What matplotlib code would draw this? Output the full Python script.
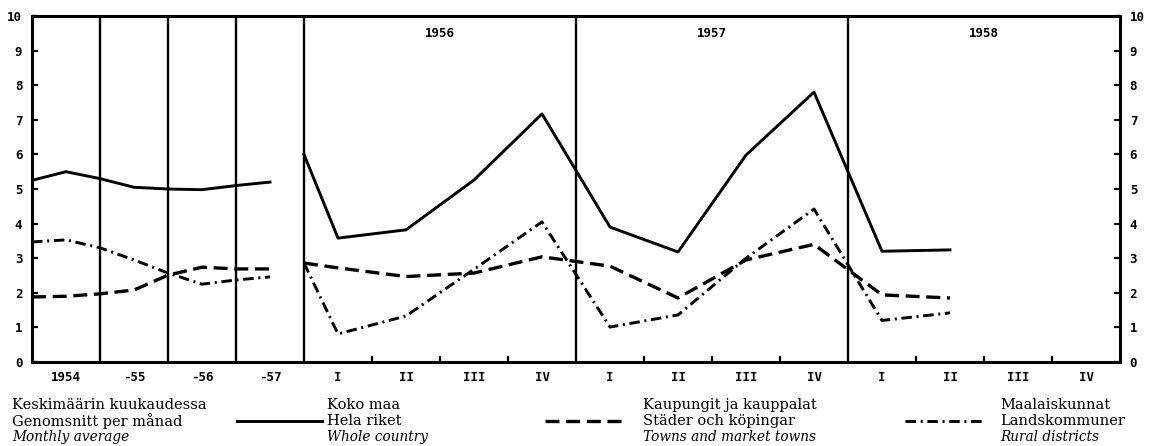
import matplotlib
matplotlib.use('Agg')
import matplotlib.pyplot as plt
from matplotlib.lines import Line2D
import numpy as np

# Annual averages 1954-57 (points at half-year steps inside each year panel)
annual_labels = ['1954', '-55', '-56', '-57']
whole_annual = [5.25, 5.5, 5.3, 5.05, 5.0, 4.98, 5.1, 5.2]
towns_annual = [1.88, 1.9, 1.97, 2.08, 2.51, 2.74, 2.69, 2.69]
rural_annual = [3.47, 3.53, 3.3, 2.95, 2.57, 2.25, 2.37, 2.46]

# Quarterly 1956-58 (first value = line entering at start of 1956 panel)
years = ['1956', '1957', '1958']
quarters = ['I', 'II', 'III', 'IV']
whole_q = [6.0, 3.58, 3.82, 5.26, 7.17, 3.9, 3.18, 5.98, 7.8, 3.2, 3.24]
towns_q = [2.86, 2.72, 2.47, 2.57, 3.04, 2.77, 1.85, 2.95, 3.4, 1.94, 1.85]
rural_q = [2.86, 0.81, 1.33, 2.68, 4.05, 1.01, 1.36, 3.0, 4.42, 1.2, 1.42]

W, H = 1154, 446
fig = plt.figure(figsize=(W / 100, H / 100), dpi=100)
ax = fig.add_axes([32 / W, 1 - 362 / H, (1120 - 32) / W, (362 - 16) / H])

n_ann = len(annual_labels)
xa = np.arange(len(whole_annual)) * 0.5
xq = np.concatenate([[n_ann], n_ann + 0.5 + np.arange(len(whole_q) - 1)])

dash = (4.2, 2.0)
dashdot = (3.6, 1.6, 0.7, 1.6)
for xs, w, t, r in [(xa, whole_annual, towns_annual, rural_annual),
                    (xq, whole_q, towns_q, rural_q)]:
    ax.plot(xs, w, color='black', lw=2.1)
    ax.plot(xs, t, color='black', lw=2.4, dashes=dash)
    ax.plot(xs, r, color='black', lw=2.1, dashes=dashdot)

x_end = n_ann + 4 * len(years)
ax.set_xlim(0, x_end)
ax.set_ylim(0, 10)

# Panel separators
for xv in list(range(1, n_ann + 1)) + [n_ann + 4 * (i + 1) for i in range(len(years) - 1)]:
    ax.axvline(xv, color='black', lw=1.7)

for s in ax.spines.values():
    s.set_linewidth(2.2)

tick_font = dict(family='DejaVu Sans Mono', size=9, weight='bold')

# Y axis both sides, inward ticks
ax.set_yticks(range(0, 11))
ax.set_yticklabels([str(v) for v in range(0, 11)], **tick_font)
ax.tick_params(axis='y', direction='in', length=4, width=1.6,
               left=True, right=True, labelleft=True, labelright=True, pad=7)

# X: quarter boundary ticks inward, labels at centres
minor = [n_ann + 4 * i + k for i in range(len(years)) for k in (1, 2, 3)]
ax.set_xticks(minor)
ax.set_xticklabels([])
ax.tick_params(axis='x', direction='in', length=4, width=1.6)

lab_x = list(np.arange(n_ann) + 0.5) + [n_ann + 4 * i + k + 0.5
                                      for i in range(len(years)) for k in range(4)]
lab_t = annual_labels + quarters * len(years)
for xv, t in zip(lab_x, lab_t):
    ax.text(xv, -0.25, t, ha='center', va='top', **tick_font)

for i, y in enumerate(years):
    ax.text(n_ann + 4 * i + 2, 9.5, y, ha='center', va='center', **tick_font)

# Legend drawn in figure pixel coordinates
def px(x, y):
    return x / W, 1 - y / H

rows = [405, 421, 437]
cols = [
    (12, None, ['Keskimäärin kuukaudessa', 'Genomsnitt per månad', 'Monthly average']),
    (327, ((237, 322), {}), ['Koko maa', 'Hela riket', 'Whole country']),
    (643, ((545, 624), {'dashes': dash, 'lw': 2.4}), ['Kaupungit ja kauppalat', 'Städer och köpingar', 'Towns and market towns']),
    (1000, ((905, 985), {'dashes': dashdot}), ['Maalaiskunnat', 'Landskommuner', 'Rural districts']),
]
for tx, sample, texts in cols:
    for j, (ry, t) in enumerate(zip(rows, texts)):
        italic = j == 2
        fig.text(*px(tx, ry), t, ha='left', va='center', family='DejaVu Serif',
                 size=9.8 if italic else 10.5, style='italic' if italic else 'normal')
    if sample:
        (x0, x1), kw = sample
        kw = {'lw': 2.1, **kw}
        fig.add_artist(Line2D([x0 / W, x1 / W], [1 - rows[1] / H] * 2,
                              transform=fig.transFigure, color='black', **kw))

fig.savefig('out.png', dpi=100)
